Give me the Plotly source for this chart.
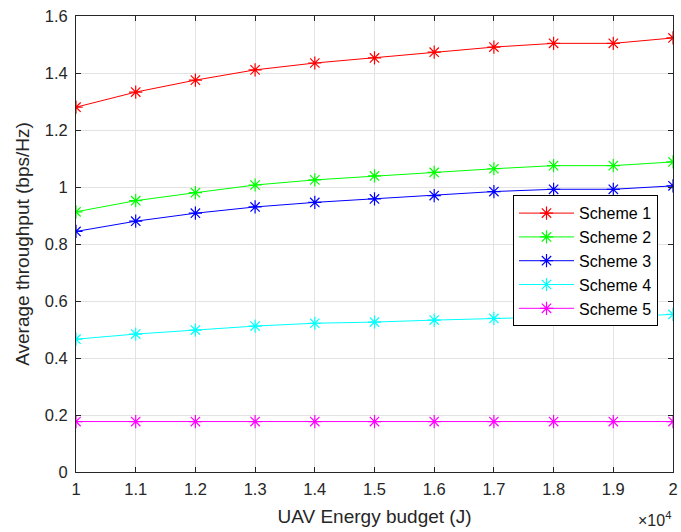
import plotly.graph_objects as go

# UAV energy budget (J) and average throughput (bps/Hz) per scheme
energy_budget = [10000, 11000, 12000, 13000, 14000, 15000, 16000, 17000, 18000, 19000, 20000]
scheme1 = [1.280, 1.333, 1.375, 1.411, 1.435, 1.453, 1.473, 1.491, 1.504, 1.504, 1.523]
scheme2 = [0.913, 0.952, 0.980, 1.007, 1.025, 1.039, 1.051, 1.064, 1.075, 1.075, 1.088]
scheme3 = [0.844, 0.880, 0.908, 0.930, 0.946, 0.958, 0.970, 0.984, 0.992, 0.992, 1.004]
scheme4 = [0.466, 0.484, 0.498, 0.512, 0.522, 0.526, 0.533, 0.539, 0.544, 0.544, 0.553]
scheme5 = [0.177, 0.177, 0.177, 0.177, 0.177, 0.177, 0.177, 0.177, 0.177, 0.177, 0.177]
names = ["Scheme 1", "Scheme 2", "Scheme 3", "Scheme 4", "Scheme 5"]
colors = ["#ff0000", "#00ff00", "#0000ff", "#00ffff", "#ff00ff"]

x_scale = 1e4
x_vals = [e / x_scale for e in energy_budget]
x_ticks = [1.0, 1.1, 1.2, 1.3, 1.4, 1.5, 1.6, 1.7, 1.8, 1.9, 2.0]
x_tick_text = ["1", "1.1", "1.2", "1.3", "1.4", "1.5", "1.6", "1.7", "1.8", "1.9", "2"]
y_ticks = [0, 0.2, 0.4, 0.6, 0.8, 1.0, 1.2, 1.4, 1.6]
y_tick_text = ["0", "0.2", "0.4", "0.6", "0.8", "1", "1.2", "1.4", "1.6"]

FONT = "Liberation Sans, Arial, Helvetica, sans-serif"
AX = "#262626"
GRID = "#e3e3e3"

fig = go.Figure()
for name, ys, c in zip(names, [scheme1, scheme2, scheme3, scheme4, scheme5], colors):
    fig.add_trace(go.Scatter(
        x=x_vals, y=ys, name=name, mode="lines+markers",
        line=dict(color=c, width=1),
        marker=dict(symbol="asterisk-open", size=11, color=c, line=dict(color=c, width=1.2)),
    ))

fig.update_layout(
    width=681, height=532,
    margin=dict(l=75.5, r=3, t=16, b=59.5),
    paper_bgcolor="white", plot_bgcolor="white",
    font=dict(family=FONT, size=16.5, color=AX),
    legend=dict(
        x=0.732, y=0.607, xanchor="left", yanchor="top",
        bgcolor="white", bordercolor="#000000", borderwidth=1,
        font=dict(family=FONT, size=16, color="#000000"),
        tracegroupgap=0, itemwidth=55,
    ),
    showlegend=True,
)

fig.update_xaxes(
    range=[1.0, 2.0], tickvals=x_ticks, ticktext=x_tick_text,
    showgrid=True, gridcolor=GRID, gridwidth=1,
    showline=True, linecolor=AX, linewidth=1, mirror="ticks",
    ticks="inside", ticklen=5, tickcolor=AX, zeroline=False,
    ticklabeloverflow="allow", ticklabelstandoff=2,
    title=dict(text="UAV Energy budget (J)", font=dict(size=19, color=AX), standoff=12),
)
fig.update_yaxes(
    range=[0, 1.6], tickvals=y_ticks, ticktext=y_tick_text,
    showgrid=True, gridcolor=GRID, gridwidth=1,
    showline=True, linecolor=AX, linewidth=1, mirror="ticks",
    ticks="inside", ticklen=5, tickcolor=AX, zeroline=False,
    ticklabeloverflow="allow", ticklabelstandoff=4,
    title=dict(text="Average throughput (bps/Hz)", font=dict(size=19, color=AX), standoff=10),
)

# exponent multiplier for the x axis
fig.add_annotation(
    text="\u00d710<sup>4</sup>", xref="paper", yref="paper",
    x=1.0, y=-0.103, xanchor="right", yanchor="middle", showarrow=False,
    font=dict(family=FONT, size=16, color=AX),
)

fig.write_html("out.html")
